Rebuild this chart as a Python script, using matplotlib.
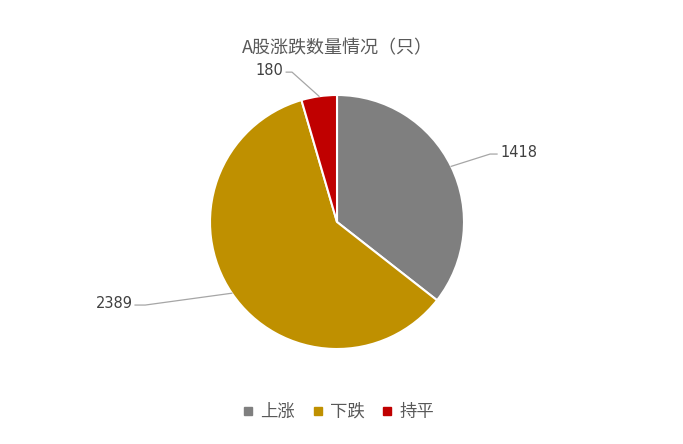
import numpy as np
import matplotlib
matplotlib.use('Agg')
import matplotlib.pyplot as plt
from matplotlib.lines import Line2D

plt.rcParams['font.family'] = ['Noto Sans CJK SC', 'DejaVu Sans']

labels = ['上涨', '下跌', '持平']
values = [1418, 2389, 180]
colors = ['#7F7F7F', '#BF9000', '#C00000']
# label anchor (elbow x, y, line end x, text x) in units of radius
label_pos = [(1.205, 0.535, 1.26, 1.29, 'left'),
             (-1.51, -0.654, -1.59, -1.61, 'right'),
             (-0.354, 1.18, -0.40, -0.425, 'right')]

W, H = 683, 444
fig = plt.figure(figsize=(W / 100, H / 100), dpi=100)
cx, cy, r = 337, 222, 127
ax = fig.add_axes([(cx - r) / W, (H - cy - r) / H, 2 * r / W, 2 * r / H])

wedges, _ = ax.pie(values, colors=colors, startangle=90, counterclock=False,
                   wedgeprops=dict(edgecolor='white', linewidth=1.5))
ax.set_xlim(-1, 1)
ax.set_ylim(-1, 1)
ax.set_aspect('equal')
ax.axis('off')

for w, v, (ex, ey, lx, tx, ha) in zip(wedges, values, label_pos):
    ang = np.deg2rad((w.theta1 + w.theta2) / 2)
    x0, y0 = np.cos(ang), np.sin(ang)
    ax.add_line(Line2D([x0, ex, lx], [y0, ey, ey], color='#A6A6A6',
                       linewidth=0.9, clip_on=False))
    ax.text(tx, ey + 0.01, str(v), ha=ha, va='center', fontsize=10.5,
            family='DejaVu Sans', color='#404040', clip_on=False)

fig.text(cx / W, 1 - 48 / H, 'A股涨跌数量情况（只）', ha='center', va='center',
         fontsize=13, color='#595959')

handles = [Line2D([], [], marker='s', linestyle='none', markersize=6,
                  markerfacecolor=c, markeredgecolor=c) for c in colors]
fig.legend(handles, labels, loc='center', bbox_to_anchor=(cx / W, 1 - 412 / H),
           ncol=3, frameon=False, fontsize=12.5, handletextpad=0.2,
           columnspacing=0.8, labelcolor='#595959', handlelength=1)

fig.savefig('out.png', dpi=100)
